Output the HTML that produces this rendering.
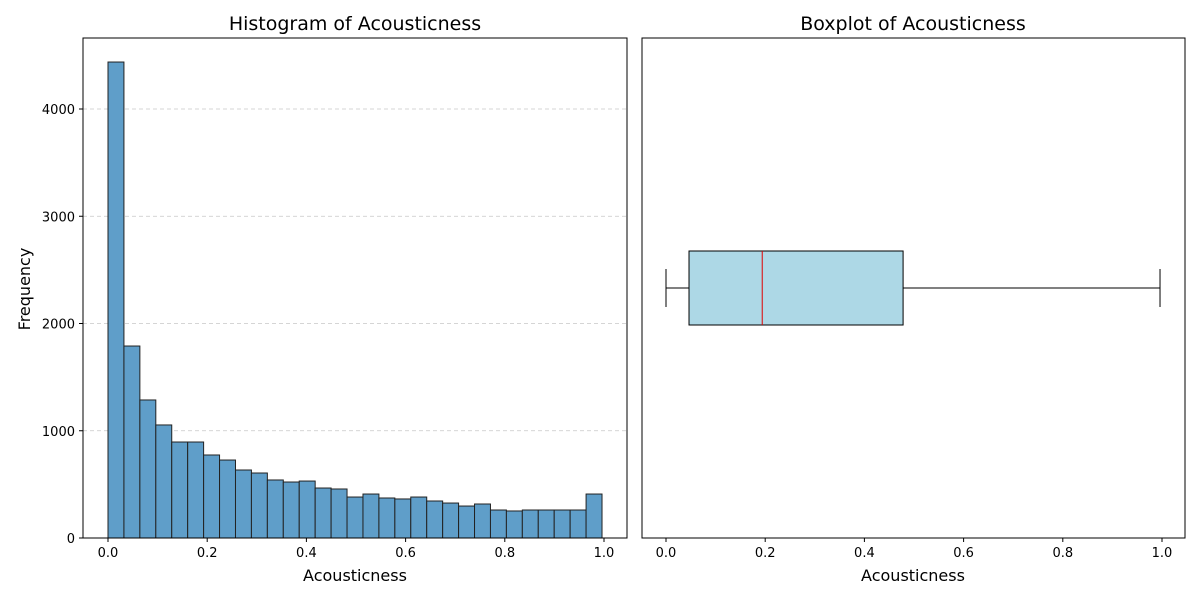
<!DOCTYPE html>
<html><head><meta charset="utf-8"><style>
body{margin:0;background:#fff;font-family:"DejaVu Sans","Liberation Sans",sans-serif}
svg text{font-family:"DejaVu Sans","Liberation Sans",sans-serif}
</style></head><body>
<svg id="c" width="1200" height="600" xmlns="http://www.w3.org/2000/svg"></svg>
<script>
const histCounts=[4438,1790,1287,1054,895,895,774,727,634,606,541,522,531,466,457,382,410,373,364,382,345,326,298,317,261,252,261,261,261,261,410];
const histMin=0, histMax=0.996;
const yTicks=[0,1000,2000,3000,4000];
const xTicks=[0,0.2,0.4,0.6,0.8,1.0];
const boxStats={whiskerLow:0,q1:0.0464,median:0.194,q3:0.478,whiskerHigh:0.996};
const NS="http://www.w3.org/2000/svg";
const svg=document.getElementById('c');
function mk(tag,attrs,parent,text){const e=document.createElementNS(NS,tag);for(const k in attrs)e.setAttribute(k,attrs[k]);if(text!==undefined)e.textContent=text;(parent||svg).appendChild(e);return e;}
const L={x0:83,x1:627,y0:38,y1:538};
const lx=v=>108+v*496, ly=v=>538-v*0.10725;
const R={x0:642,x1:1185,y0:38,y1:538};
const rx=v=>666+v*496;
yTicks.forEach(t=>{const g=mk('line',{x1:L.x0,x2:L.x1,y1:ly(t),y2:ly(t),stroke:'#c8c8c8','stroke-dasharray':'4,3','stroke-width':0.8});
});
const bw=(histMax-histMin)/histCounts.length;
histCounts.forEach((c,i)=>{const x=lx(histMin+i*bw),w=lx(histMin+(i+1)*bw)-x;
const r=mk('rect',{x:x,y:ly(c),width:w,height:ly(0)-ly(c),fill:'#5f9ec9',stroke:'#222','stroke-width':1});
});
[L,R].forEach((a,i)=>{const f=mk('rect',{x:a.x0,y:a.y0,width:a.x1-a.x0,height:a.y1-a.y0,fill:'none',stroke:'#000','stroke-width':1});
});
yTicks.forEach(t=>{mk('line',{x1:L.x0-4,x2:L.x0,y1:ly(t),y2:ly(t),stroke:'#000'});
const tx=mk('text',{x:L.x0-8,y:ly(t)+5,'text-anchor':'end','font-size':13},svg,t);
});
[[lx,L],[rx,R]].forEach(([f,a])=>xTicks.forEach(t=>{mk('line',{x1:f(t),x2:f(t),y1:a.y1,y2:a.y1+4,stroke:'#000'});
const tx=mk('text',{x:f(t),y:a.y1+19,'text-anchor':'middle','font-size':13},svg,t.toFixed(1));
}));
const cy=288,bh=37,cap=19;
const b=mk('rect',{x:rx(boxStats.q1),y:cy-bh,width:rx(boxStats.q3)-rx(boxStats.q1),height:2*bh,fill:'#add8e6',stroke:'#000'});

const m=mk('line',{x1:rx(boxStats.median),x2:rx(boxStats.median),y1:cy-bh,y2:cy+bh,stroke:'#e00000'});

[[boxStats.whiskerLow,boxStats.q1],[boxStats.q3,boxStats.whiskerHigh]].forEach(([a,c])=>{
const w=mk('line',{x1:rx(a),x2:rx(c),y1:cy,y2:cy,stroke:'#000'});});
[boxStats.whiskerLow,boxStats.whiskerHigh].forEach(v=>{const c=mk('line',{x1:rx(v),x2:rx(v),y1:cy-cap,y2:cy+cap,stroke:'#000'});
});
function txt(name,x,y,s,t,rot){const e=mk('text',{x:x,y:y,'text-anchor':'middle','font-size':s},svg,t);if(rot)e.setAttribute('transform',`rotate(-90 ${x} ${y})`);
}
txt('histogram-title',355,30,19,'Histogram of Acousticness');
txt('boxplot-title',913,30,19,'Boxplot of Acousticness');
txt('x-axis-title',355,581,16,'Acousticness');
txt('boxplot-x-axis-title',913,581,16,'Acousticness');
txt('y-axis-title',30,289,16,'Frequency',true);
</script>
</body></html>
